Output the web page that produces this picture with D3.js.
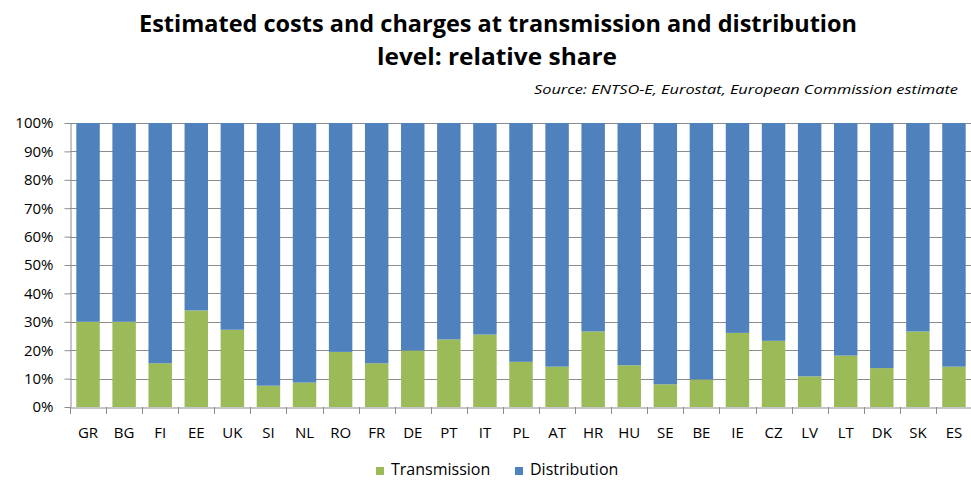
<!DOCTYPE html>
<html>
<head>
<meta charset="utf-8">
<script src="https://cdn.jsdelivr.net/npm/d3@7"></script>
<style>
  body { margin: 0; background: #fff; }
  svg { display: block; font-family: "Open Sans", "Noto Sans", sans-serif; }
</style>
</head>
<body>
<svg id="chart" width="971" height="480"></svg>
<script>
const countries = ["GR", "BG", "FI", "EE", "UK", "SI", "NL", "RO", "FR", "DE", "PT", "IT", "PL",
  "AT", "HR", "HU", "SE", "BE", "IE", "CZ", "LV", "LT", "DK", "SK", "ES"];
const transmission = [30, 30, 15.4, 34, 27.2, 7.5, 8.6, 19.4, 15.4, 19.9, 23.8, 25.5, 15.9,
  14.2, 26.6, 14.7, 8, 9.7, 26.1, 23.3, 10.8, 18.1, 13.7, 26.6, 14.2];
const distribution = [70, 70, 84.6, 66, 72.8, 92.5, 91.4, 80.6, 84.6, 80.1, 76.2, 74.5, 84.1,
  85.8, 73.4, 85.3, 92, 90.3, 73.9, 76.7, 89.2, 81.9, 86.3, 73.4, 85.8];
const yTicks = [0, 10, 20, 30, 40, 50, 60, 70, 80, 90, 100];
const seriesNames = ["Transmission", "Distribution"];
const colors = ["#9bbb59", "#4f81bd"];

const svg = d3.select("#chart");
const plot = { left: 70, right: 972, top: 123, bottom: 407 };

const rows = countries.map((c, i) => ({ country: c, Transmission: transmission[i], Distribution: distribution[i] }));
const stacked = d3.stack().keys(seriesNames)(rows);

const x = d3.scaleBand().domain(countries).range([plot.left, plot.right])
  .paddingInner(0.35).paddingOuter(0.175);
const y = d3.scaleLinear().domain([0, 100]).range([plot.bottom, plot.top]);

// title
svg.append("text")
  .attr("x", 498).attr("y", 32)
  .attr("text-anchor", "middle")
  .attr("font-size", 23).attr("font-weight", "bold")
  .attr("textLength", 718).attr("lengthAdjust", "spacingAndGlyphs")
  .text("Estimated costs and charges at transmission and distribution");
svg.append("text")
  .attr("x", 497).attr("y", 65)
  .attr("text-anchor", "middle")
  .attr("font-size", 23).attr("font-weight", "bold")
  .attr("textLength", 240).attr("lengthAdjust", "spacingAndGlyphs")
  .text("level: relative share");
svg.append("text")
  .attr("x", 958).attr("y", 94)
  .attr("text-anchor", "end")
  .attr("font-size", 13).attr("font-style", "italic")
  .attr("textLength", 424).attr("lengthAdjust", "spacingAndGlyphs")
  .text("Source: ENTSO-E, Eurostat, European Commission estimate");

// gridlines
svg.append("g")
  .selectAll("line")
  .data(yTicks.slice(1))
  .join("line")
  .attr("x1", plot.left).attr("x2", plot.right)
  .attr("y1", d => Math.round(y(d)) + 0.5).attr("y2", d => Math.round(y(d)) + 0.5)
  .attr("stroke", "#8c8c8c").attr("stroke-width", 1);

// bars
svg.append("g")
  .selectAll("g")
  .data(stacked)
  .join("g")
  .attr("fill", (d, i) => colors[i])
  .selectAll("rect")
  .data(d => d)
  .join("rect")
  .attr("x", d => x(d.data.country))
  .attr("width", x.bandwidth())
  .attr("y", d => y(d[1]))
  .attr("height", d => y(d[0]) - y(d[1]));

// y axis
const yAxis = svg.append("g")
  .attr("transform", `translate(${plot.left + 0.5},0)`)
  .call(d3.axisLeft(y).tickValues(yTicks).tickFormat(d => d + "%").tickSize(6).tickSizeOuter(0));
yAxis.select(".domain").attr("stroke", "#8c8c8c");
yAxis.selectAll(".tick line").attr("stroke", "#8c8c8c");
yAxis.selectAll(".tick text").attr("x", -17).attr("font-size", 15)
  .attr("font-family", "\"Open Sans\", sans-serif").attr("fill", "#000");

// x axis
const xAxis = svg.append("g")
  .attr("transform", `translate(0,${Math.round(plot.bottom) + 0.5})`)
  .call(d3.axisBottom(x).tickSize(0).tickSizeOuter(0));
xAxis.select(".domain").attr("stroke", "#8c8c8c");
xAxis.selectAll(".tick text").attr("y", 20).attr("font-size", 15)
  .attr("font-family", "\"Open Sans\", sans-serif").attr("fill", "#000");
// boundary tick marks between categories
svg.append("g")
  .selectAll("line")
  .data(d3.range(countries.length + 1))
  .join("line")
  .attr("x1", i => Math.round(plot.left + i * x.step()) + 0.5)
  .attr("x2", i => Math.round(plot.left + i * x.step()) + 0.5)
  .attr("y1", plot.bottom).attr("y2", plot.bottom + 7)
  .attr("stroke", "#8c8c8c");

// legend
const legend = svg.append("g").attr("font-size", 16);
const legendX = [376, 515];
seriesNames.forEach((name, i) => {
  const g = legend.append("g").attr("transform", `translate(${legendX[i]},475)`);
  g.append("rect").attr("x", 0).attr("y", -8).attr("width", 8).attr("height", 8).attr("fill", colors[i]);
  g.append("text").attr("x", 15).attr("y", 0).attr("fill", "#000").text(name);
});
</script>
</body>
</html>
